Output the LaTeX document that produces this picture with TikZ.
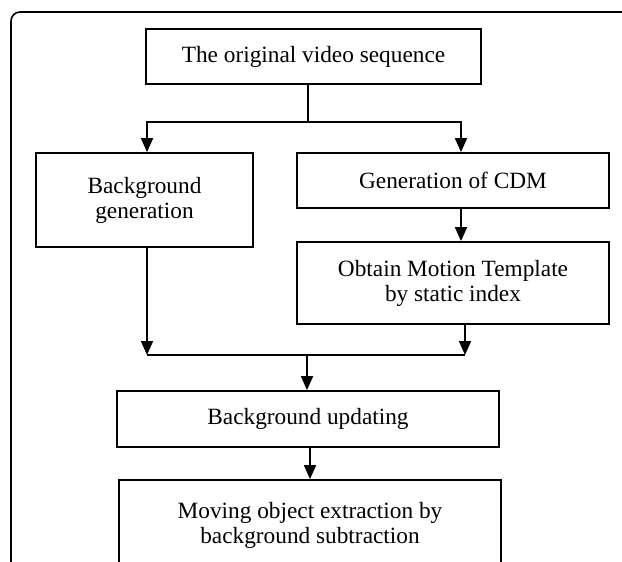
\documentclass[tikz,border=0pt]{standalone}
\usepackage{fontspec}
\setmainfont{Liberation Serif}
\usetikzlibrary{arrows.meta,positioning,calc}

\tikzset{
  stage/.style={draw,line width=1.8pt,align=center,inner sep=0pt,
    font=\fontsize{23.3}{25}\selectfont},
}

\begin{document}
\begin{tikzpicture}[x=1pt,y=-1pt,>={Triangle[length=14pt,width=12pt]},line width=1.8pt]
  \useasboundingbox (0,0) rectangle (622,562);
  \clip (0,0) rectangle (622,562);
  % outer frame, cut at the right and bottom
  \draw[line width=1.6pt,rounded corners=9pt] (11,580) -- (11,12) -- (640,12);

  \node[stage,minimum width=335pt,minimum height=55pt] (seq) at (313.5,56.5) {The original video sequence};
  \node[stage,minimum width=217pt,minimum height=94pt] (bggen) at (144.5,200) {Background\\generation};
  \node[stage,minimum width=312pt,minimum height=55pt] (cdm) at (453,180.5) {Generation of CDM};
  \node[stage,minimum width=312pt,minimum height=82pt] (motion) at (453,283) {Obtain Motion Template\\by static index};
  \node[stage,minimum width=382pt,minimum height=56pt] (update) at (308,419) {Background updating};
  \node[stage,minimum width=382pt,minimum height=90pt] (extract) at (310,525) {Moving object extraction by\\background subtraction};

  \coordinate (split) at (308,122);
  \coordinate (merge) at (307,355);
  \draw (seq.south -| split) -- (split);
  \draw[->] (split) -| ([xshift=2.5pt]bggen.north);
  \draw[->] (split) -| ([xshift=8pt]cdm.north);
  \draw[->] ([xshift=8pt]cdm.south) -- ([xshift=8pt]motion.north);
  \draw[->] ([xshift=2.5pt]bggen.south) -- ([xshift=2.5pt]bggen.south |- merge);
  \draw[->] ([xshift=12pt]motion.south) -- ([xshift=12pt]motion.south |- merge);
  \draw ([xshift=2.5pt]bggen.south |- merge) -- ([xshift=12pt]motion.south |- merge);
  \draw[->] (merge) -- (update.north -| merge);
  \draw[->] ([xshift=2pt]update.south) -- ([xshift=2pt]update.south |- extract.north);
\end{tikzpicture}
\end{document}
